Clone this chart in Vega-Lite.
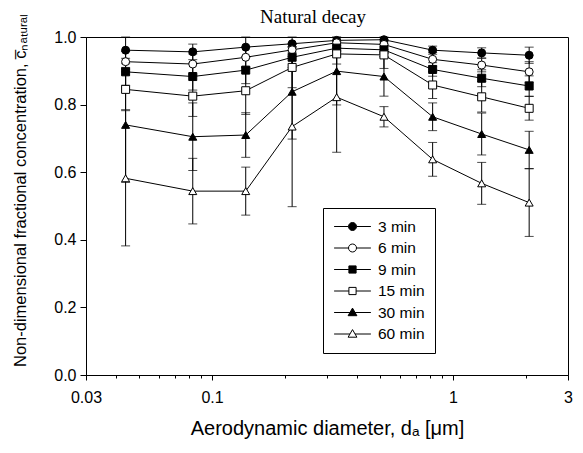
{
  "$schema": "https://vega.github.io/schema/vega-lite/v6.json",
  "width": 482,
  "height": 338,
  "autosize": {"type": "none"},
  "padding": {"left": 86, "top": 37, "right": 15, "bottom": 78},
  "background": "white",
  "title": {"text": "Natural decay", "font": "Liberation Serif", "fontSize": 19, "fontWeight": "normal", "color": "black", "offset": -13, "dx": -14},
  "config": {
    "view": {"stroke": "black", "strokeWidth": 1},
    "axis": {"domainColor": "black", "tickColor": "black", "labelColor": "black", "titleColor": "black", "labelFont": "Liberation Sans", "titleFont": "Liberation Sans", "labelFontSize": 16, "titleFontWeight": "normal", "grid": false},
    "legend": {"labelFont": "Liberation Sans", "labelFontSize": 15.5, "labelColor": "black"}
  },
  "data": {"values": [
    {"series": "3 min", "d": 0.0438, "c": 0.961, "err": 0.04},
    {"series": "3 min", "d": 0.0832, "c": 0.956, "err": 0.023},
    {"series": "3 min", "d": 0.138, "c": 0.970, "err": 0.03},
    {"series": "3 min", "d": 0.215, "c": 0.980, "err": 0.025},
    {"series": "3 min", "d": 0.329, "c": 0.990, "err": 0.015},
    {"series": "3 min", "d": 0.517, "c": 0.992, "err": 0.015},
    {"series": "3 min", "d": 0.823, "c": 0.961, "err": 0.012},
    {"series": "3 min", "d": 1.315, "c": 0.953, "err": 0.015},
    {"series": "3 min", "d": 2.07, "c": 0.946, "err": 0.024},
    {"series": "6 min", "d": 0.0438, "c": 0.927, "err": 0.03},
    {"series": "6 min", "d": 0.0832, "c": 0.920, "err": 0.03},
    {"series": "6 min", "d": 0.138, "c": 0.940, "err": 0.03},
    {"series": "6 min", "d": 0.215, "c": 0.962, "err": 0.02},
    {"series": "6 min", "d": 0.329, "c": 0.983, "err": 0.015},
    {"series": "6 min", "d": 0.517, "c": 0.978, "err": 0.015},
    {"series": "6 min", "d": 0.823, "c": 0.934, "err": 0.02},
    {"series": "6 min", "d": 1.315, "c": 0.917, "err": 0.02},
    {"series": "6 min", "d": 2.07, "c": 0.897, "err": 0.03},
    {"series": "9 min", "d": 0.0438, "c": 0.897, "err": 0.04},
    {"series": "9 min", "d": 0.0832, "c": 0.883, "err": 0.04},
    {"series": "9 min", "d": 0.138, "c": 0.902, "err": 0.04},
    {"series": "9 min", "d": 0.215, "c": 0.940, "err": 0.03},
    {"series": "9 min", "d": 0.329, "c": 0.967, "err": 0.02},
    {"series": "9 min", "d": 0.517, "c": 0.962, "err": 0.02},
    {"series": "9 min", "d": 0.823, "c": 0.904, "err": 0.02},
    {"series": "9 min", "d": 1.315, "c": 0.878, "err": 0.025},
    {"series": "9 min", "d": 2.07, "c": 0.855, "err": 0.03},
    {"series": "15 min", "d": 0.0438, "c": 0.845, "err": 0.06},
    {"series": "15 min", "d": 0.0832, "c": 0.825, "err": 0.06},
    {"series": "15 min", "d": 0.138, "c": 0.841, "err": 0.07},
    {"series": "15 min", "d": 0.215, "c": 0.910, "err": 0.06},
    {"series": "15 min", "d": 0.329, "c": 0.950, "err": 0.03},
    {"series": "15 min", "d": 0.517, "c": 0.947, "err": 0.04},
    {"series": "15 min", "d": 0.823, "c": 0.858, "err": 0.04},
    {"series": "15 min", "d": 1.315, "c": 0.823, "err": 0.045},
    {"series": "15 min", "d": 2.07, "c": 0.789, "err": 0.035},
    {"series": "30 min", "d": 0.0438, "c": 0.740, "err": 0.17},
    {"series": "30 min", "d": 0.0832, "c": 0.705, "err": 0.10},
    {"series": "30 min", "d": 0.138, "c": 0.710, "err": 0.066},
    {"series": "30 min", "d": 0.215, "c": 0.838, "err": 0.14},
    {"series": "30 min", "d": 0.329, "c": 0.899, "err": 0.10},
    {"series": "30 min", "d": 0.517, "c": 0.883, "err": 0.058},
    {"series": "30 min", "d": 0.823, "c": 0.764, "err": 0.041},
    {"series": "30 min", "d": 1.315, "c": 0.713, "err": 0.062},
    {"series": "30 min", "d": 2.07, "c": 0.666, "err": 0.055},
    {"series": "60 min", "d": 0.0438, "c": 0.582, "err": 0.20},
    {"series": "60 min", "d": 0.0832, "c": 0.544, "err": 0.097},
    {"series": "60 min", "d": 0.138, "c": 0.544, "err": 0.071},
    {"series": "60 min", "d": 0.215, "c": 0.735, "err": 0.237},
    {"series": "60 min", "d": 0.329, "c": 0.822, "err": 0.163},
    {"series": "60 min", "d": 0.517, "c": 0.764, "err": 0.03},
    {"series": "60 min", "d": 0.823, "c": 0.638, "err": 0.05},
    {"series": "60 min", "d": 1.315, "c": 0.567, "err": 0.062},
    {"series": "60 min", "d": 2.07, "c": 0.510, "err": 0.10}
  ]},
  "encoding": {
    "x": {
      "field": "d", "type": "quantitative",
      "scale": {"type": "log", "domain": [0.03, 3], "nice": false},
      "axis": {
        "title": "Aerodynamic diameter, dₐ [μm]",
        "titleFontSize": 20,
        "values": [0.03, 0.04, 0.05, 0.06, 0.07, 0.08, 0.09, 0.1, 0.2, 0.3, 0.4, 0.5, 0.6, 0.7, 0.8, 0.9, 1, 2, 3],
        "format": "~g",
        "labelExpr": "(datum.value == 0.03 || datum.value == 0.1 || datum.value == 1 || datum.value == 3) ? datum.label : ''",
        "tickSize": {"condition": {"test": "datum.value == 0.03 || datum.value == 0.1 || datum.value == 1 || datum.value == 3", "value": 5}, "value": 3},
        "labelFlush": false,
        "labelOverlap": false,
        "labelPadding": 9,
        "titlePadding": 13
      }
    },
    "y": {
      "field": "c", "type": "quantitative",
      "scale": {"domain": [0, 1], "nice": false, "clamp": true},
      "axis": {
        "title": "Non-dimensional fractional concentration, c̅ₙₐₜᵤᵣₐₗ",
        "titleFontSize": 16.5,
        "titleY": 153,
        "values": [0, 0.2, 0.4, 0.6, 0.8, 1.0],
        "format": ".1f",
        "tickSize": 6,
        "labelPadding": 4,
        "titlePadding": 25
      }
    }
  },
  "layer": [
    {
      "mark": {"type": "errorbar", "ticks": true, "color": "black", "size": 9, "thickness": 1},
      "encoding": {
        "yError": {"field": "err"},
        "detail": {"field": "series"}
      }
    },
    {
      "mark": {"type": "line", "strokeWidth": 1},
      "encoding": {
        "stroke": {
          "field": "series", "type": "nominal",
          "scale": {"domain": ["3 min", "6 min", "9 min", "15 min", "30 min", "60 min"], "range": ["black", "black", "black", "black", "black", "black"]},
          "legend": {
            "title": null,
            "orient": "none",
            "legendX": 237,
            "legendY": 171,
            "strokeColor": "black",
            "fillColor": "white",
            "padding": 10,
            "symbolSize": 256,
            "symbolOffset": 11,
            "labelOffset": 17,
            "rowPadding": 4.5,
            "encode": {
              "symbols": {
                "update": {
                  "shape": {"signal": "(datum.value == '3 min' || datum.value == '6 min') ? 'M-2.3,0L-0.5,0M0.5,0L2.3,0M0.5,0A0.5,0.5,0,1,1,-0.5,0A0.5,0.5,0,1,1,0.5,0Z' : (datum.value == '9 min' || datum.value == '15 min') ? 'M-2.3,0L-0.45,0M0.45,0L2.3,0M-0.45,-0.45L0.45,-0.45L0.45,0.45L-0.45,0.45Z' : 'M-2.3,0L-0.32,0M0.32,0L2.3,0M0,-0.55L0.55,0.4L-0.55,0.4Z'"},
                  "fill": {"signal": "(datum.value == '3 min' || datum.value == '9 min' || datum.value == '30 min') ? 'black' : 'white'"},
                  "strokeWidth": {"value": 1},
                  "size": {"value": 256},
                  "opacity": {"value": 1}
                }
              }
            }
          }
        }
      }
    },
    {
      "mark": {"type": "point", "filled": true, "stroke": "black", "strokeWidth": 1, "size": 64, "opacity": 1},
      "encoding": {
        "shape": {
          "field": "series", "type": "nominal",
          "sort": ["3 min", "6 min", "9 min", "15 min", "30 min", "60 min"],
          "scale": {"range": ["circle", "circle", "square", "square", "triangle-up", "triangle-up"]},
          "legend": null
        },
        "fill": {
          "field": "series", "type": "nominal",
          "sort": ["3 min", "6 min", "9 min", "15 min", "30 min", "60 min"],
          "scale": {"range": ["black", "white", "black", "white", "black", "white"]},
          "legend": null
        }
      }
    }
  ]
}
